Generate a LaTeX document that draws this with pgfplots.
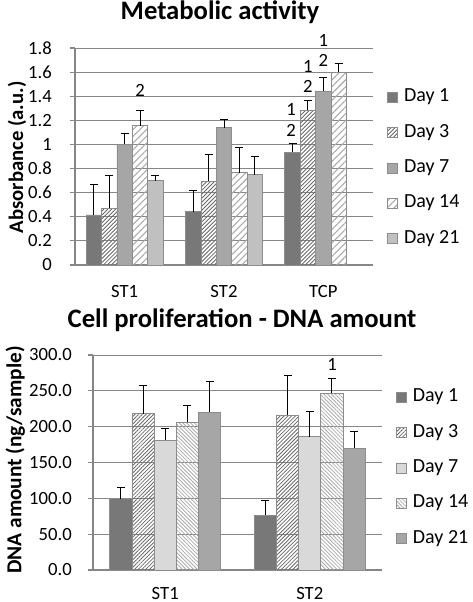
\documentclass[border=0pt]{standalone}
\usepackage{fontspec}
\setmainfont{Carlito}
\usepackage{pgfplots}
\pgfplotsset{compat=1.18}
\usetikzlibrary{patterns.meta}

\definecolor{dkg}{RGB}{120,120,120}
\definecolor{mdg}{RGB}{166,166,166}
\definecolor{ltg}{RGB}{192,192,192}
\definecolor{vlg}{RGB}{217,217,217}
\definecolor{brd}{RGB}{140,140,140}
\definecolor{axg}{RGB}{134,134,134}
\definecolor{hdk}{RGB}{105,105,105}
\definecolor{hlt}{RGB}{170,170,170}

\pgfplotsset{
  eb/.style={/pgfplots/error bars/y dir=plus, /pgfplots/error bars/y explicit,
    /pgfplots/error bars/error bar style={black, solid, line width=0.7pt},
    /pgfplots/error bars/error mark options={black, solid, rotate=90, mark size=3pt, line width=0.7pt},
    /pgfplots/legend image code/.code={\draw[##1] (0pt,-3.75pt) rectangle (7.5pt,3.75pt);}},
  common/.style={
    scale only axis, clip=false,
    axis x line*=bottom, axis y line*=left,
    axis line style={axg, line width=0.8pt},
    ymajorgrids, grid style={axg, line width=0.7pt},
    major x tick style={draw=none},
    y tick style={axg, line width=0.8pt}, tick align=outside, major tick length=3.75pt,
    ticklabel style={font=\fontsize{14}{16}\selectfont},
    /pgf/number format/assume math mode=true,
    xticklabel style={anchor=north, inner sep=0pt},
    yticklabel style={anchor=east, inner sep=0pt},
    legend cell align=left,
  },
}

\begin{document}
\begin{tikzpicture}
\useasboundingbox (0,0) rectangle (354pt,-451.5pt);

% ---------- Top chart ----------
\begin{axis}[common,
  at={(56.25pt,-198.75pt)}, anchor=south west,
  width=223.5pt, height=162.75pt,
  xmin=-0.5, xmax=2.5, ymin=0, ymax=1.8,
  ybar=0pt, bar width=11.55pt,
  xtick={0,1,2}, xticklabels={ST1,ST2,TCP},
  ytick={0,0.2,0.4,0.6,0.8,1,1.2,1.4,1.6,1.8},
  yticklabel style={/pgf/number format/fixed, /pgf/number format/precision=1, xshift=-13.5pt},
  xticklabel style={yshift=-11pt},
  legend style={at={(1.047,0.811)}, anchor=north west, draw=none, fill=none, inner sep=0pt,
    font=\fontsize{15}{17}\selectfont, row sep=14.5pt,
    nodes={inner sep=0pt, text height=9.5pt, text depth=2.5pt},
    /tikz/every odd column/.append style={column sep=4.5pt}},
]
\addplot[fill=dkg, draw=brd, line width=0.6pt, eb] coordinates {
  (0,0.415) +- (0,0.257) (1,0.442) +- (0,0.175) (2,0.934) +- (0,0.075)};
\addlegendentry{Day 1}
\addplot[fill=white, draw=brd, line width=0.6pt,
  pattern={Lines[angle=45,distance=2.1pt,line width=0.65pt]}, pattern color=hdk, eb] coordinates {
  (0,0.47) +- (0,0.274) (1,0.694) +- (0,0.226) (2,1.283) +- (0,0.08)};
\addlegendentry{Day 3}
\addplot[fill=mdg, draw=brd, line width=0.6pt, eb] coordinates {
  (0,1.0) +- (0,0.091) (1,1.139) +- (0,0.072) (2,1.443) +- (0,0.114)};
\addlegendentry{Day 7}
\addplot[fill=white, draw=brd, line width=0.6pt,
  pattern={Lines[angle=45,distance=3.6pt,line width=0.8pt]}, pattern color=hlt, eb] coordinates {
  (0,1.156) +- (0,0.127) (1,0.766) +- (0,0.21) (2,1.6) +- (0,0.075)};
\addlegendentry{Day 14}
\addplot[fill=ltg, draw=brd, line width=0.6pt, eb] coordinates {
  (0,0.70) +- (0,0.041) (1,0.749) +- (0,0.155)};
\addlegendentry{Day 21}

\begin{scope}[every node/.style={font=\fontsize{14}{16}\selectfont}]
\node at (axis cs:0.156,1.45) {2};
\node at (axis cs:1.675,1.12) {2};
\node at (axis cs:1.675,1.29) {1};
\node at (axis cs:1.844,1.48) {2};
\node at (axis cs:1.844,1.65) {1};
\node at (axis cs:2.0,1.70) {2};
\node at (axis cs:2.0,1.86) {1};
\end{scope}
\end{axis}

% ---------- Bottom chart ----------
\begin{axis}[common,
  at={(69.75pt,-427.5pt)}, anchor=south west,
  width=216.75pt, height=161.25pt,
  xmin=-0.5, xmax=1.5, ymin=0, ymax=300,
  ybar=0pt, bar width=16.65pt,
  xtick={0,1}, xticklabels={ST1,ST2},
  ytick={0,50,100,150,200,250,300},
  yticklabel style={/pgf/number format/fixed, /pgf/number format/fixed zerofill, /pgf/number format/precision=1, xshift=-12pt},
  xticklabel style={yshift=-9pt},
  legend style={at={(1.048,0.842)}, anchor=north west, draw=none, fill=none, inner sep=0pt,
    font=\fontsize{15}{17}\selectfont, row sep=14.5pt,
    nodes={inner sep=0pt, text height=9.5pt, text depth=2.5pt},
    /tikz/every odd column/.append style={column sep=4.5pt}},
]
\addplot[fill=dkg, draw=brd, line width=0.6pt, eb] coordinates {
  (0,99.5) +- (0,16) (1,76.7) +- (0,21)};
\addlegendentry{Day 1}
\addplot[fill=white, draw=brd, line width=0.6pt,
  pattern={Lines[angle=45,distance=2pt,line width=0.6pt]}, pattern color=hdk, eb] coordinates {
  (0,218) +- (0,39) (1,216) +- (0,55)};
\addlegendentry{Day 3}
\addplot[fill=vlg, draw=brd, line width=0.6pt, eb] coordinates {
  (0,181.4) +- (0,16.5) (1,186) +- (0,35)};
\addlegendentry{Day 7}
\addplot[fill=white, draw=brd, line width=0.6pt,
  pattern={Lines[angle=-45,distance=2pt,line width=0.6pt]}, pattern color=hlt, eb] coordinates {
  (0,206.5) +- (0,23.5) (1,246.5) +- (0,21)};
\addlegendentry{Day 14}
\addplot[fill=mdg, draw=brd, line width=0.6pt, eb] coordinates {
  (0,220) +- (0,42.5) (1,170) +- (0,24)};
\addlegendentry{Day 21}

\node[font=\fontsize{14}{16}\selectfont] at (axis cs:1.154,287) {1};
\end{axis}

% ---------- Titles and axis labels ----------
\node[font=\fontsize{20}{24}\bfseries\selectfont, anchor=base] at (165pt,-15pt) {Metabolic activity};
\node[font=\fontsize{20}{24}\bfseries\selectfont, anchor=base] at (181.5pt,-245.25pt) {Cell proliferation - DNA amount};
\node[font=\fontsize{15.5}{18}\bfseries\selectfont, rotate=90] at (12.75pt,-118pt) {Absorbance (a.u.)};
\node[font=\fontsize{16}{19}\bfseries\selectfont, rotate=90] at (11.5pt,-345pt) {DNA amount (ng/sample)};
\end{tikzpicture}
\end{document}
